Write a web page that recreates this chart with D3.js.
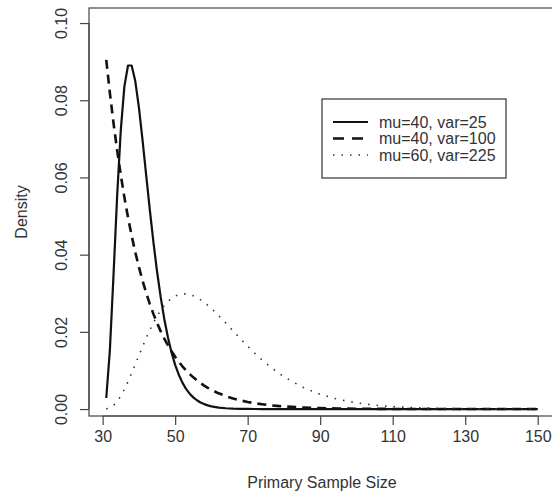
<!DOCTYPE html>
<html>
<head>
<meta charset="utf-8">
<script src="https://cdn.jsdelivr.net/npm/d3@7"></script>
<style>
  body { margin: 0; background: #fff; }
  text { font-family: "Liberation Sans", Arial, sans-serif; fill: #333; }
</style>
</head>
<body>
<div id="chart"></div>
<script>
// sample sizes (x) and density of each curve
var sampleSize = [31, 32, 33, 34, 35, 36, 37, 38, 39, 40,
                  41, 42, 43, 44, 45, 46, 47, 48, 49, 50,
                  51, 52, 53, 54, 55, 56, 57, 58, 59, 60,
                  62, 64, 66, 68, 70, 72, 74, 76, 78, 80,
                  85, 90, 95, 100, 105, 110, 115, 120, 125, 130, 135, 140, 145, 150];

var dens25 = [0.00286, 0.01534, 0.03470, 0.05513, 0.07218, 0.08361, 0.08900, 0.08900, 0.08498, 0.07815,
              0.06974, 0.06068, 0.05172, 0.04330, 0.03570, 0.02905, 0.02335, 0.01859, 0.01465, 0.01145,
              0.00889, 0.00685, 0.00524, 0.00399, 0.00303, 0.00228, 0.00171, 0.00128, 0.00095, 0.00071,
              0.00039, 0.00021, 0.00011, 0.00006, 0.00003, 0.00001, 0, 0, 0, 0,
              0, 0, 0, 0, 0, 0, 0, 0, 0, 0, 0, 0, 0, 0];

var dens100 = [0.09048, 0.08187, 0.07408, 0.06703, 0.06065, 0.05488, 0.04966, 0.04493, 0.04066, 0.03679,
               0.03329, 0.03012, 0.02725, 0.02466, 0.02231, 0.02019, 0.01827, 0.01653, 0.01496, 0.01353,
               0.01225, 0.01108, 0.01003, 0.00907, 0.00821, 0.00743, 0.00672, 0.00608, 0.00550, 0.00498,
               0.00408, 0.00334, 0.00273, 0.00224, 0.00183, 0.00150, 0.00123, 0.00100, 0.00082, 0.00067,
               0.00041, 0.00025, 0.00015, 0.00009, 0.00006, 0.00003, 0.00002, 0.00001, 0, 0, 0, 0, 0, 0];

var dens225 = [0.00005, 0.00032, 0.00095, 0.00198, 0.00338, 0.00511, 0.00711, 0.00928, 0.01157, 0.01389,
               0.01617, 0.01838, 0.02045, 0.02235, 0.02406, 0.02556, 0.02683, 0.02787, 0.02869, 0.02928,
               0.02967, 0.02985, 0.02985, 0.02968, 0.02936, 0.02890, 0.02833, 0.02765, 0.02689, 0.02606,
               0.02422, 0.02226, 0.02023, 0.01821, 0.01628, 0.01444, 0.01270, 0.01113, 0.00967, 0.00836,
               0.00573, 0.00381, 0.00249, 0.00160, 0.00101, 0.00063, 0.00039, 0.00024, 0.00014, 0.00009,
               0.00005, 0.00003, 0.00002, 0.00001];

var seriesLabels = ["mu=40, var=25", "mu=40, var=100", "mu=60, var=225"];
var xTicks = [30, 50, 70, 90, 110, 130, 150];
var yTicks = [0.00, 0.02, 0.04, 0.06, 0.08, 0.10];

var width = 552, height = 496;
var plot = {left: 89, right: 555, top: 8, bottom: 416};

var svg = d3.select("#chart").append("svg")
    .attr("width", width)
    .attr("height", height);

var x = d3.scaleLinear().domain([26.24, 154.76]).range([plot.left, plot.right]);
var y = d3.scaleLinear().domain([-0.0018, 0.1039]).range([plot.bottom, plot.top]);

// box
svg.append("rect")
    .attr("x", plot.left)
    .attr("y", plot.top)
    .attr("width", plot.right - plot.left)
    .attr("height", plot.bottom - plot.top)
    .attr("fill", "none")
    .attr("stroke", "#444")
    .attr("stroke-width", 1.2);

// x axis
var xAxis = svg.append("g")
    .attr("transform", "translate(0," + plot.bottom + ")")
    .call(d3.axisBottom(x).tickValues(xTicks).tickSize(9).tickPadding(6).tickFormat(d3.format("d")));
xAxis.select(".domain").attr("d", "M" + x(30) + ",0H" + x(150)).attr("stroke", "#444").attr("stroke-width", 1.2);
xAxis.selectAll(".tick line").attr("stroke", "#444").attr("stroke-width", 1.2);
xAxis.selectAll(".tick text")
    .attr("font-size", "16px")
    .attr("font-family", "Liberation Sans, Arial, sans-serif")
    .attr("fill", "#333")
    .attr("dy", "0.71em");

// y axis, labels turned like R does
var yAxis = svg.append("g")
    .attr("transform", "translate(" + plot.left + ",0)")
    .call(d3.axisLeft(y).tickValues(yTicks).tickSize(9).tickFormat(d3.format(".2f")));
yAxis.select(".domain").attr("d", "M0," + y(0) + "V" + y(0.1)).attr("stroke", "#444").attr("stroke-width", 1.2);
yAxis.selectAll(".tick line").attr("stroke", "#444").attr("stroke-width", 1.2);
yAxis.selectAll(".tick text")
    .attr("x", null)
    .attr("dy", null)
    .attr("transform", "translate(-22,0) rotate(-90)")
    .attr("text-anchor", "middle")
    .attr("font-size", "16px")
    .attr("font-family", "Liberation Sans, Arial, sans-serif")
    .attr("fill", "#333");

// axis titles
svg.append("text")
    .attr("x", (plot.left + plot.right) / 2)
    .attr("y", 488)
    .attr("text-anchor", "middle")
    .style("font-size", "16px")
    .text("Primary Sample Size");

svg.append("text")
    .attr("transform", "translate(27," + ((plot.top + plot.bottom) / 2) + ") rotate(-90)")
    .attr("text-anchor", "middle")
    .style("font-size", "16px")
    .text("Density");

// curves
var styles = [
    {data: dens25, dash: null, width: 2.2, color: "#111"},
    {data: dens100, dash: "9,6", width: 2.6, color: "#111"},
    {data: dens225, dash: "1.5,7", width: 1.6, color: "#333"}
];

var line = d3.line()
    .x(function(d, i) { return x(sampleSize[i]); })
    .y(function(d) { return y(d); });

styles.forEach(function(s) {
    svg.append("path")
        .datum(s.data)
        .attr("fill", "none")
        .attr("stroke", s.color)
        .attr("stroke-width", s.width)
        .attr("stroke-dasharray", s.dash)
        .attr("stroke-linejoin", "round")
        .attr("d", line);
});

// legend
var legend = svg.append("g");
legend.append("rect")
    .attr("x", 322)
    .attr("y", 99)
    .attr("width", 184)
    .attr("height", 79)
    .attr("fill", "#fff")
    .attr("stroke", "#333")
    .attr("stroke-width", 1.2);

seriesLabels.forEach(function(label, i) {
    var rowY = 122 + i * 16.5;
    legend.append("line")
        .attr("x1", 333)
        .attr("x2", 368)
        .attr("y1", rowY)
        .attr("y2", rowY)
        .attr("stroke", styles[i].color)
        .attr("stroke-width", styles[i].width)
        .attr("stroke-dasharray", i === 1 ? "11,8" : styles[i].dash);
    legend.append("text")
        .attr("x", 379)
        .attr("y", rowY + 5.5)
        .style("font-size", "16px")
        .text(label);
});
</script>
</body>
</html>
